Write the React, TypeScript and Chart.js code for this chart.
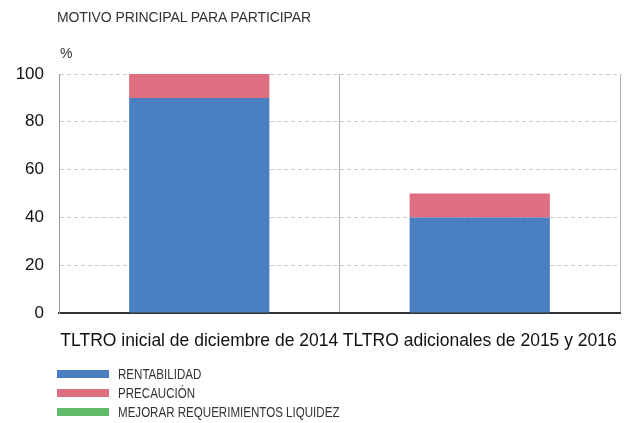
import React, { useEffect, useRef } from "react";
import { Chart, registerables } from "chart.js";

Chart.register(...registerables);

const categories = ["TLTRO inicial de diciembre de 2014", "TLTRO adicionales de 2015 y 2016"];
const rentabilidad = [90, 40];
const precaucion = [10, 10];
const mejorar = [0, 0];
const yTicks = [0, 20, 40, 60, 80, 100];

const seriesNames = ["RENTABILIDAD", "PRECAUCIÓN", "MEJORAR REQUERIMIENTOS LIQUIDEZ"];
const seriesColors = ["#4a80c2", "#de6f80", "#5fbb6a"];
const seriesValues = [rentabilidad, precaucion, mejorar];

export default function App() {
  const ref = useRef<HTMLCanvasElement | null>(null);

  useEffect(() => {
    document.body.style.margin = "0";
    if (!ref.current) return;
    const chart = new Chart(ref.current, {
      type: "bar",
      data: {
        labels: categories,
        datasets: seriesValues.map((v, i) => ({
          label: seriesNames[i],
          data: v,
          backgroundColor: seriesColors[i],
          borderWidth: 0,
          barPercentage: 0.5,
          categoryPercentage: 1,
        })),
      },
      options: {
        animation: false,
        responsive: false,
        maintainAspectRatio: false,
        layout: { padding: { top: 74, right: 8, left: 0, bottom: 0 } },
        plugins: {
          legend: { display: false },
          tooltip: { enabled: false },
          title: { display: false },
        },
        scales: {
          x: {
            stacked: true,
            offset: true,
            grid: {
              display: true,
              offset: true,
              color: "#b0b0b0",
              lineWidth: 1,
              drawTicks: false,
            },
            border: { display: true, color: "#333333", width: 2 },
            ticks: {
              color: "#111111",
              font: { family: "Liberation Sans, Arial, sans-serif", size: 17.5 },
              padding: 18,
              maxRotation: 0,
              autoSkip: false,
            },
            afterFit: (s: any) => {
              s.height = 110;
              s.paddingLeft = 0;
              s.paddingRight = 0;
            },
          },
          y: {
            stacked: true,
            min: 0,
            max: 100,
            afterBuildTicks: (s: any) => {
              s.ticks = yTicks.map((v) => ({ value: v }));
            },
            grid: {
              color: "#cccccc",
              lineWidth: 1,
              drawTicks: false,
            },
            border: { display: true, color: "#999999", width: 1, dash: [4, 3] },
            ticks: {
              color: "#111111",
              font: { family: "Liberation Sans, Arial, sans-serif", size: 17 },
              padding: 15,
            },
            afterFit: (s: any) => {
              s.width = 59;
            },
          },
        },
      },
      plugins: [
        {
          id: "frame",
          afterDraw: (c: any) => {
            const { ctx, chartArea } = c;
            ctx.save();
            ctx.strokeStyle = "#999999";
            ctx.lineWidth = 1;
            ctx.beginPath();
            ctx.moveTo(chartArea.left + 0.5, chartArea.top);
            ctx.lineTo(chartArea.left + 0.5, chartArea.bottom);
            ctx.stroke();
            ctx.restore();
          },
        },
      ],
    });
    return () => chart.destroy();
  }, []);

  const textColor = "#333333";
  return (
    <div style={{ position: "relative", width: 628, height: 423, background: "#fff" }}>
      <canvas ref={ref} width={628} height={423} style={{ position: "absolute", left: 0, top: 0 }} />
      <div
        style={{
          position: "absolute",
          left: 57,
          top: 9,
          fontFamily: "Liberation Sans, Arial, sans-serif",
          fontSize: 14,
          color: textColor,
          whiteSpace: "nowrap",
          letterSpacing: -0.1,
        }}
      >
        MOTIVO PRINCIPAL PARA PARTICIPAR
      </div>
      <div
        style={{
          position: "absolute",
          left: 60,
          top: 45,
          fontFamily: "Liberation Sans, Arial, sans-serif",
          fontSize: 14,
          color: textColor,
        }}
      >
        %
      </div>
      {seriesNames.map((n, i) => (
        <div
          key={n}
          style={{
            position: "absolute",
            left: 57,
            top: 366 + i * 19,
            display: "flex",
            alignItems: "center",
            height: 16,
          }}
        >
          <div style={{ width: 52, height: 8, background: seriesColors[i] }} />
          <div
            style={{
              marginLeft: 9,
              fontFamily: "Liberation Sans, Arial, sans-serif",
              fontSize: 14,
              color: textColor,
              whiteSpace: "nowrap",
              transform: "scaleX(0.826)",
              transformOrigin: "left center",
            }}
          >
            {n}
          </div>
        </div>
      ))}
    </div>
  );
}
